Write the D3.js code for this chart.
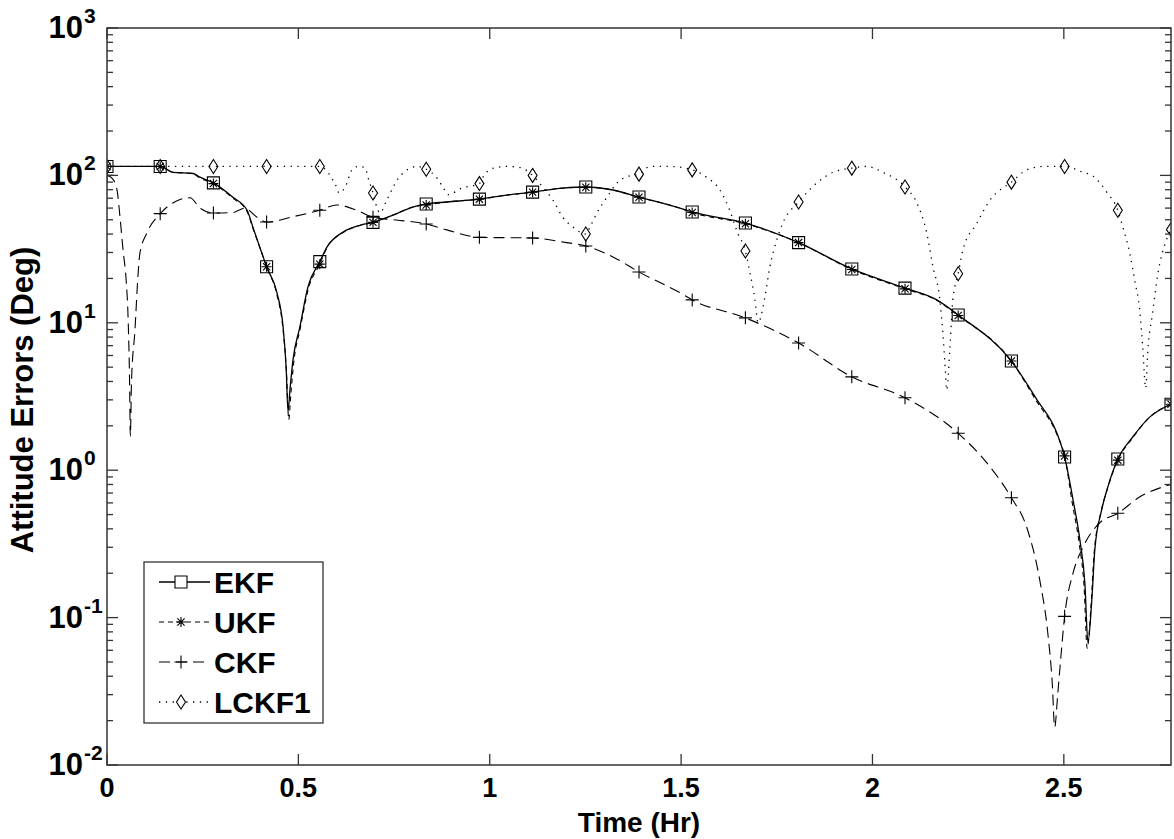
<!DOCTYPE html>
<html>
<head>
<meta charset="utf-8">
<script src="https://cdn.jsdelivr.net/npm/d3@7"></script>
<style>
body { margin: 0; background: #fff; }
text { font-family: "Liberation Sans", Arial, sans-serif; font-weight: bold; fill: #000; }
</style>
</head>
<body>
<div id="container"></div>
<script>
let w = 1174;
let h = 839;
let margin = {left: 107, right: 1171, top: 28, bottom: 765};

// marker positions (Hr), every 1/20 of the run
let markTimes = [0, 0.139, 0.278, 0.417, 0.556, 0.695, 0.834, 0.973, 1.112, 1.251, 1.39,
                 1.529, 1.668, 1.807, 1.946, 2.085, 2.224, 2.363, 2.502, 2.641, 2.78];

// EKF
let ekfMarks = [115, 115, 89, 24, 26, 48, 64, 69, 77, 83.4, 71.3, 56.5, 47.5, 35, 23.2, 17.2, 11.3, 5.5, 1.23, 1.19, 2.8];
let ekfT = [0.172, 0.225, 0.24, 0.329, 0.366, 0.381, 0.408, 0.444, 0.46, 0.468, 0.473, 0.478, 0.486, 0.504, 0.525,
            0.575, 0.617, 0.661, 0.749, 0.799, 0.888, 1.045, 1.192, 1.322, 1.497, 2.168, 2.43, 2.482,
            2.524, 2.542, 2.555, 2.563, 2.573, 2.581, 2.599, 2.615, 2.68, 2.725];
let ekfV = [105, 103, 98, 71, 58, 44.7, 28, 16, 9.4, 5, 2.5, 3.5, 5.6, 9.4, 17.5,
            32.7, 41.3, 45.9, 54, 61, 66, 73.6, 82, 79.6, 60, 14.3, 3.0, 1.78,
            0.63, 0.336, 0.17, 0.068, 0.13, 0.29, 0.54, 0.77, 1.68, 2.3];

// UKF
let ukfMarks = [115, 115, 88, 24, 25, 48, 63, 69, 77, 83, 71, 56, 47, 35, 23, 17, 11.2, 5.5, 1.25, 1.17, 2.8];
let ukfT = [0.172, 0.225, 0.24, 0.329, 0.366, 0.381, 0.408, 0.444, 0.46, 0.469, 0.475, 0.48, 0.488, 0.505, 0.526,
            0.575, 0.617, 0.661, 0.749, 0.799, 0.888, 1.045, 1.192, 1.322, 1.497, 2.168, 2.43, 2.482,
            2.522, 2.54, 2.553, 2.561, 2.571, 2.579, 2.597, 2.614, 2.68, 2.725];
let ukfV = [105, 103, 97, 70, 57, 44, 28, 15.5, 9, 4.6, 2.2, 3.2, 5.4, 9.2, 17,
            32.5, 41, 45.7, 54, 61, 66, 73.5, 82, 79.5, 60, 14.2, 2.9, 1.75,
            0.6, 0.32, 0.16, 0.062, 0.12, 0.27, 0.52, 0.75, 1.66, 2.3];

// CKF
let ckfMarks = [100, 55, 55.6, 48.3, 58, 52, 46.8, 38, 37.6, 33.2, 22.1, 14.3, 10.8, 7.3, 4.3, 3.1, 1.78, 0.65, 0.102, 0.51, 0.8];
let ckfT = [0.013, 0.026, 0.034, 0.042, 0.05, 0.055, 0.059, 0.061, 0.064, 0.073, 0.081, 0.086, 0.104,
            0.172, 0.217, 0.243, 0.329, 0.36, 0.392, 0.486, 0.601, 0.653, 0.749, 0.888, 1.201, 1.322, 1.497,
            2.299, 2.403, 2.437, 2.458, 2.47, 2.476, 2.484, 2.49, 2.524, 2.55, 2.594, 2.699];
let ckfV = [96, 80, 52, 31, 19.5, 11, 4, 1.7, 4, 8.9, 21, 29.7, 40.6,
            65, 70.5, 60, 56, 60, 52, 52.5, 63, 58, 50, 42.7, 35, 28, 16,
            1.12, 0.41, 0.18, 0.079, 0.035, 0.018, 0.03, 0.046, 0.2, 0.3, 0.44, 0.66];

// LCKF1
let lckfMarks = [115, 115, 115, 115, 115, 76, 110, 88, 100, 40, 102, 109, 30.7, 66, 112, 83.5, 21.5, 90, 115, 58, 43];
let lckfT = [0.577, 0.59, 0.601, 0.606, 0.622, 0.64, 0.656, 0.674, 0.684, 0.705, 0.713, 0.731, 0.758, 0.784, 0.81,
             0.862, 0.878, 0.891, 0.927, 0.985, 1.01, 1.045, 1.079, 1.139, 1.165, 1.191, 1.217, 1.262, 1.28, 1.306, 1.332, 1.358,
             1.419, 1.47, 1.567, 1.601, 1.627, 1.648, 1.68, 1.693, 1.701, 1.719, 1.732, 1.75, 1.766,
             1.855, 1.897, 1.985, 2.027, 2.116, 2.142, 2.158, 2.176, 2.184, 2.19, 2.194, 2.202, 2.21,
             2.236, 2.273, 2.307, 2.403, 2.445, 2.55, 2.576, 2.612, 2.654, 2.672, 2.685, 2.699, 2.706, 2.714,
             2.719, 2.732, 2.746, 2.768];
let lckfV = [105, 93, 82, 76, 83, 109, 115, 113, 93, 61, 55.6, 68, 93, 109, 115,
             96, 83, 74, 82, 100, 112, 115, 113, 83, 68, 52, 44.7, 44.7, 55.6, 71, 88.5, 98,
             115, 115, 97, 80, 58, 40.5, 21.8, 14.3, 10, 15, 24, 36.5, 47.7,
             89, 105, 115, 105, 65, 40.5, 24, 14.3, 8.5, 5, 3.5, 6.5, 14.3,
             31, 47.5, 68, 109, 115, 105, 99, 77, 44.7, 29.9, 19.5, 11.7, 6.9, 3.6,
             6.2, 11.7, 21.7, 36.5];

let xTicks = [0, 0.5, 1, 1.5, 2, 2.5];
let xTickLabels = ["0", "0.5", "1", "1.5", "2", "2.5"];
let yDecades = [-2, -1, 0, 1, 2, 3];

let viz = d3.select("#container").append("svg")
              .attr("width", w)
              .attr("height", h)
              .style("background-color", "white");

let xScale = d3.scaleLinear().domain([0, 2.78]).range([margin.left, margin.right]);
let yScale = d3.scaleLog().domain([0.01, 1000]).range([margin.bottom, margin.top]);

function merge(ts, vs, marks) {
  let pts = ts.map((t, i) => [t, vs[i]]);
  markTimes.forEach((t, i) => pts.push([t, marks[i]]));
  pts.sort((a, b) => a[0] - b[0]);
  return pts.filter((p, i) => i == 0 || Math.abs(p[0] - pts[i - 1][0]) > 1e-4);
}

let series = [
  {name: "EKF", pts: merge(ekfT, ekfV, ekfMarks), marks: ekfMarks, dash: null, sym: "square", width: 1.3},
  {name: "UKF", pts: merge(ukfT, ukfV, ukfMarks), marks: ukfMarks, dash: "5,4", sym: "star", width: 1.1},
  {name: "CKF", pts: merge(ckfT, ckfV, ckfMarks), marks: ckfMarks, dash: "11,6", sym: "plus", width: 1.1},
  {name: "LCKF1", pts: merge(lckfT, lckfV, lckfMarks), marks: lckfMarks, dash: "1.3,5.5", sym: "diamond", width: 1.3}
];

let symbols = {
  square: "M-6,-6h12v12h-12z",
  star: "M-5,0H5M0,-5V5M-3.6,-3.6L3.6,3.6M-3.6,3.6L3.6,-3.6",
  plus: "M-6.5,0H6.5M0,-6.5V6.5",
  diamond: "M0,-7L4.5,0L0,7L-4.5,0Z"
};

viz.append("clipPath").attr("id", "plotclip")
    .append("rect")
    .attr("x", margin.left).attr("y", margin.top)
    .attr("width", margin.right - margin.left)
    .attr("height", margin.bottom - margin.top);

let plot = viz.append("g").attr("clip-path", "url(#plotclip)");

let lineMaker = d3.line()
    .x(d => xScale(d[0]))
    .y(d => yScale(d[1]))
    .curve(d3.curveMonotoneX);

// draw lines back to front
[3, 2, 1, 0].forEach(function(k) {
  let s = series[k];
  plot.append("path")
      .attr("d", lineMaker(s.pts))
      .attr("fill", "none")
      .attr("stroke", "black")
      .attr("stroke-width", s.width)
      .attr("stroke-dasharray", s.dash);
});

[3, 2, 0, 1].forEach(function(k) {
  let s = series[k];
  plot.selectAll(".m" + k).data(s.marks).enter()
      .append("path")
      .attr("class", "m" + k)
      .attr("d", symbols[s.sym])
      .attr("transform", (d, i) => "translate(" + xScale(markTimes[i]) + "," + yScale(d) + ")")
      .attr("fill", "none")
      .attr("stroke", "black")
      .attr("stroke-width", 1.1);
});

// axes box + ticks
let axisColor = "#333";
viz.append("rect")
    .attr("x", margin.left).attr("y", margin.top)
    .attr("width", margin.right - margin.left)
    .attr("height", margin.bottom - margin.top)
    .attr("fill", "none")
    .attr("stroke", axisColor)
    .attr("stroke-width", 1.5);

let ticks = viz.append("g").attr("stroke", axisColor).attr("stroke-width", 1.3);

xTicks.forEach(function(t) {
  let x = xScale(t);
  ticks.append("line").attr("x1", x).attr("x2", x).attr("y1", margin.bottom).attr("y2", margin.bottom - 11);
  ticks.append("line").attr("x1", x).attr("x2", x).attr("y1", margin.top).attr("y2", margin.top + 11);
});

yDecades.forEach(function(d) {
  let y = yScale(Math.pow(10, d));
  ticks.append("line").attr("x1", margin.left).attr("x2", margin.left + 11).attr("y1", y).attr("y2", y);
  ticks.append("line").attr("x1", margin.right).attr("x2", margin.right - 11).attr("y1", y).attr("y2", y);
  if (d < 3) {
    for (let m = 2; m <= 9; m++) {
      let ym = yScale(m * Math.pow(10, d));
      ticks.append("line").attr("x1", margin.left).attr("x2", margin.left + 6).attr("y1", ym).attr("y2", ym);
      ticks.append("line").attr("x1", margin.right).attr("x2", margin.right - 6).attr("y1", ym).attr("y2", ym);
    }
  }
});

// tick labels
viz.selectAll(".xlab").data(xTicks).enter()
    .append("text")
    .attr("class", "xlab")
    .text((d, i) => xTickLabels[i])
    .attr("x", d => xScale(d))
    .attr("y", 797)
    .attr("text-anchor", "middle")
    .attr("font-size", 27);

yDecades.forEach(function(d) {
  let y = yScale(Math.pow(10, d));
  viz.append("text").text("10")
      .attr("x", 83).attr("y", y + 10)
      .attr("text-anchor", "end")
      .attr("font-size", 31);
  viz.append("text").text(d)
      .attr("x", 84).attr("y", y - 5)
      .attr("font-size", 21);
});

viz.append("text")
    .text("Time (Hr)")
    .attr("x", (margin.left + margin.right) / 2)
    .attr("y", 832)
    .attr("text-anchor", "middle")
    .attr("font-size", 28);

viz.append("text")
    .text("Attitude Errors (Deg)")
    .attr("transform", "translate(33,400) rotate(-90)")
    .attr("text-anchor", "middle")
    .attr("font-size", 31);

// legend
let legend = viz.append("g");
legend.append("rect")
    .attr("x", 144).attr("y", 562)
    .attr("width", 179).attr("height", 161)
    .attr("fill", "white")
    .attr("stroke", axisColor)
    .attr("stroke-width", 1.3);

series.forEach(function(s, i) {
  let y = 582 + i * 40;
  legend.append("line")
      .attr("x1", 159).attr("x2", 210).attr("y1", y).attr("y2", y)
      .attr("stroke", "black")
      .attr("stroke-width", s.width)
      .attr("stroke-dasharray", s.dash);
  legend.append("path")
      .attr("d", symbols[s.sym])
      .attr("transform", "translate(181," + y + ")")
      .attr("fill", "white")
      .attr("stroke", "black")
      .attr("stroke-width", 1.1);
  legend.append("text")
      .text(s.name)
      .attr("x", 214)
      .attr("y", y + 11)
      .attr("font-size", 30);
});
</script>
</body>
</html>
